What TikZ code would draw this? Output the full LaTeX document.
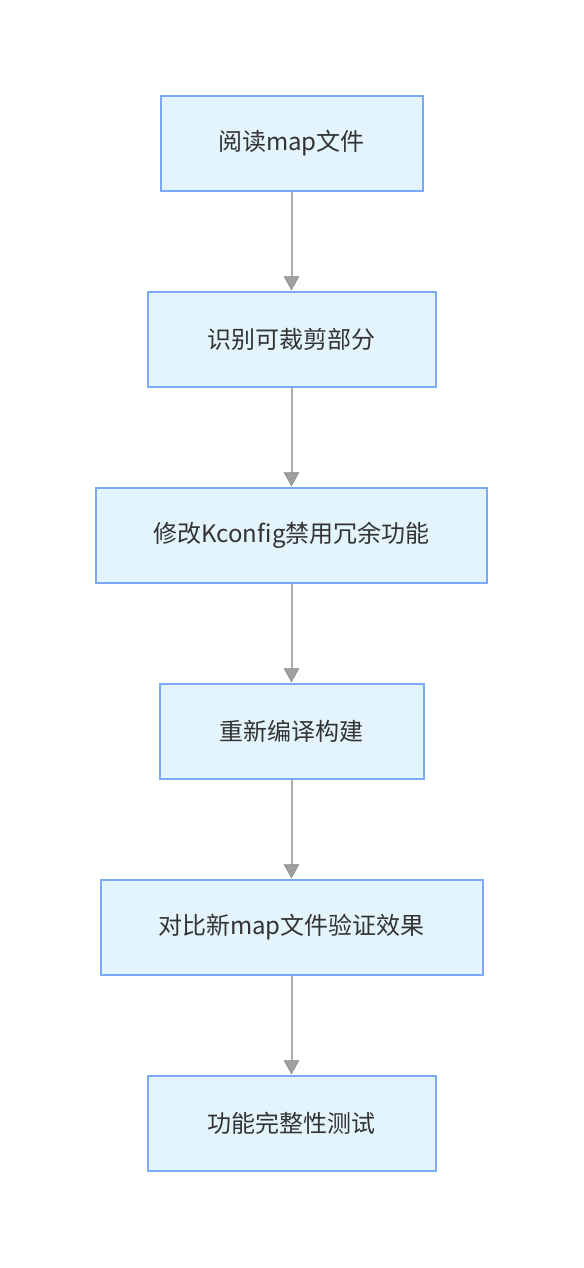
\documentclass[tikz,border=0pt]{standalone}
\usepackage{fontspec}
\setmainfont{Noto Sans CJK SC}
\usetikzlibrary{arrows.meta}
\definecolor{boxfill}{HTML}{E3F4FD}
\definecolor{boxdraw}{HTML}{7BAAF7}
\definecolor{linegray}{HTML}{ADADAD}
\definecolor{headgray}{HTML}{A0A0A0}
\definecolor{headdraw}{HTML}{8C8C8C}
\definecolor{txt}{HTML}{333333}
\tikzset{
  stepbox/.style={draw=boxdraw, fill=boxfill, line width=1.5pt, minimum height=95*0.75pt, inner sep=0pt, text=txt, font=\fontsize{18pt}{22pt}\selectfont},
  flow/.style={draw=linegray, line width=1.5pt, -{Triangle[length=10.5pt,width=11.5pt,fill=headgray,color=headdraw,line width=0.6pt]}, shorten >=0.5pt}
}
\begin{document}
\begin{tikzpicture}[x=0.75pt,y=-0.75pt]
\useasboundingbox (0,0) rectangle (583,1268);
\fill[white] (0,0) rectangle (583,1268);
\node[stepbox, minimum width=262*0.75pt] (a) at (291.5,143.5) {\raisebox{-1.2pt}{阅读map文件}};
\node[stepbox, minimum width=288*0.75pt] (b) at (291.5,339.5) {\raisebox{-1.2pt}{识别可裁剪部分}};
\node[stepbox, minimum width=391*0.75pt] (c) at (291.5,535.5) {\raisebox{-1.2pt}{修改Kconfig禁用冗余功能}};
\node[stepbox, minimum width=264*0.75pt] (d) at (291.5,731.5) {\raisebox{-1.2pt}{重新编译构建}};
\node[stepbox, minimum width=382*0.75pt] (e) at (291.5,927.5) {\raisebox{-1.2pt}{对比新map文件验证效果}};
\node[stepbox, minimum width=288*0.75pt] (f) at (291.5,1123.5) {\raisebox{-1.2pt}{功能完整性测试}};
\draw[flow] (a) -- (b);
\draw[flow] (b) -- (c);
\draw[flow] (c) -- (d);
\draw[flow] (d) -- (e);
\draw[flow] (e) -- (f);
\end{tikzpicture}
\end{document}
